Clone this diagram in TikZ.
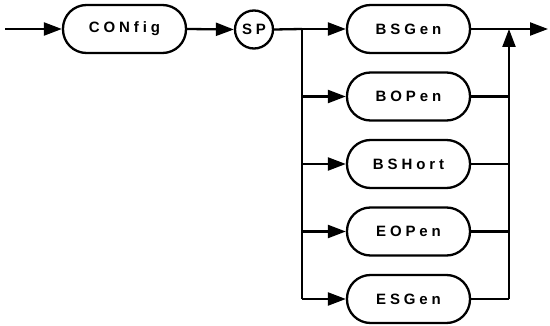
\documentclass[tikz,border=0pt]{standalone}
\usepackage{fontspec}
\newfontfamily\diafont{Liberation Sans}[LetterSpace=26]
\usetikzlibrary{arrows.meta}
\begin{document}
\begin{tikzpicture}[x=1pt,y=-1pt,
  line width=2.3pt,
  tip/.style={-{Triangle[length=18pt,width=13pt]}},
  term/.style={draw, rectangle, rounded corners=23.5pt, minimum width=123pt, minimum height=48pt, inner sep=0pt, font=\diafont\bfseries\fontsize{15}{16}\selectfont},
  circ/.style={draw, circle, minimum size=38pt, inner sep=0pt, font=\diafont\bfseries\fontsize{15}{16}\selectfont}]
\useasboundingbox (0,0) rectangle (550,326);
\coordinate (start) at (5,29);
\node[term] (config) at (124.5,29) {CONfig};
\node[circ] (sp) at (254,29.5) {SP};
\coordinate (br) at (302,29);
\node[term] (bsgen) at (408.5,29) {BSGen};
\node[term] (bopen) at (408.5,96.5) {BOPen};
\node[term] (bshort) at (408.5,164) {BSHort};
\node[term] (eopen) at (408.5,231.5) {EOPen};
\node[term] (esgen) at (408.5,299) {ESGen};
\coordinate (jn) at (509,29);
\coordinate (jb) at (509,299);
\coordinate (bb) at (302,299);
\coordinate (end) at (548,29);
\draw[tip] (start) -- (config.west);
\draw[tip] (config.east) -- (sp.west);
\draw (sp.east) -- (br);
\draw[tip] (br) -- (bsgen.west);
\draw (br) -- (bb);
\draw[tip] (bb |- bopen) -- (bopen.west);
\draw[tip] (bb |- bshort) -- (bshort.west);
\draw[tip] (bb |- eopen) -- (eopen.west);
\draw[tip] (bb) -- (esgen.west);
\draw[tip] (bsgen.east) -- (end);
\draw (bopen.east) -- (jn |- bopen);
\draw (bshort.east) -- (jn |- bshort);
\draw (eopen.east) -- (jn |- eopen);
\draw (esgen.east) -- (jb);
\draw[tip] (jb) -- (jn);
\end{tikzpicture}
\end{document}
